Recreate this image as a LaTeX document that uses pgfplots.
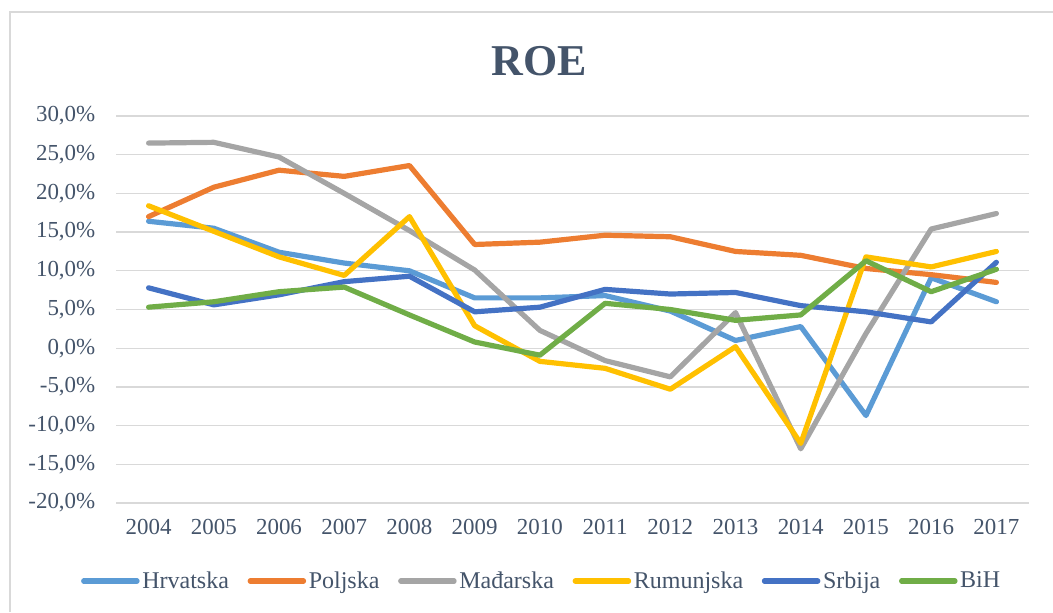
\documentclass[border=0pt]{standalone}
\usepackage{pgfplots}
\pgfplotsset{compat=1.18}
\usepackage{pgfplotstable}
\usepackage{fontspec}
\setmainfont{Liberation Serif}
\definecolor{txt}{HTML}{44546A}
\definecolor{cHr}{HTML}{5B9BD5}
\definecolor{cPo}{HTML}{ED7D31}
\definecolor{cMa}{HTML}{A5A5A5}
\definecolor{cRu}{HTML}{FFC000}
\definecolor{cSr}{HTML}{4472C4}
\definecolor{cBi}{HTML}{70AD47}
\definecolor{gridc}{HTML}{D9D9D9}
\pgfplotstableread{
year Hr Po Ma Ru Sr Bi
2004 16.4 17.0 26.5 18.4 7.8 5.3
2005 15.5 20.8 26.6 15.1 5.6 6.0
2006 12.4 23.0 24.7 11.8 6.9 7.3
2007 11.0 22.2 20.0 9.4 8.6 7.9
2008 10.0 23.6 15.2 17.0 9.3 4.3
2009 6.5 13.4 10.1 2.9 4.7 0.8
2010 6.5 13.7 2.3 -1.7 5.3 -0.9
2011 6.8 14.6 -1.6 -2.6 7.6 5.8
2012 4.8 14.4 -3.7 -5.3 7.0 5.0
2013 1.0 12.5 4.6 0.2 7.2 3.6
2014 2.8 12.0 -13.0 -12.3 5.5 4.3
2015 -8.7 10.3 1.9 11.8 4.7 11.3
2016 9.1 9.5 15.4 10.5 3.4 7.3
2017 6.0 8.5 17.4 12.5 11.1 10.2
}\datatable
\begin{document}
\begin{tikzpicture}
\path[use as bounding box] (0,0) rectangle (789.75pt,459pt);
\draw[gridc, line width=0.8pt] (7.5pt,0pt) -- (7.5pt,450pt) -- (789.75pt,450pt);
\node[text=txt, font=\fontsize{33}{36}\selectfont\bfseries, anchor=center] at (404.6pt,412.9pt) {ROE};
\begin{axis}[
  at={(87pt,81.75pt)}, anchor=south west,
  scale only axis, width=684.75pt, height=290.25pt,
  xmin=2003.5, xmax=2017.5, ymin=-20, ymax=30,
  axis line style={draw=none},
  major tick length=0pt,
  xtick={2004,...,2017},
  xticklabels={2004,2005,2006,2007,2008,2009,2010,2011,2012,2013,2014,2015,2016,2017},
  ytick={-20,-15,...,30},
  yticklabels={-20{,}0\%,-15{,}0\%,-10{,}0\%,-5{,}0\%,0{,}0\%,5{,}0\%,10{,}0\%,15{,}0\%,20{,}0\%,25{,}0\%,30{,}0\%},
  ticklabel style={text=txt, font=\fontsize{17.2}{19}\selectfont},
  yticklabel style={xshift=-12pt},
  xticklabel style={yshift=-9pt},
  ymajorgrids, grid style={gridc, line width=1.0pt},
  clip=false,
  legend columns=6,
  legend style={at={(0.4666,-0.2016)}, anchor=center, draw=none, fill=none,
    font=\fontsize{18}{20}\selectfont, text=txt,
    /tikz/every even column/.append style={column sep=12pt},
    /tikz/every odd column/.append style={column sep=0pt},
    inner sep=0pt},
  legend image code/.code={\draw[#1, line cap=round] (0pt,0pt) -- (40pt,0pt);},
  every axis plot/.append style={line width=3.9pt, line join=round, line cap=round},
]
\addplot[cHr] table[x=year,y=Hr] {\datatable};
\addlegendentry{Hrvatska}
\addplot[cPo] table[x=year,y=Po] {\datatable};
\addlegendentry{Poljska}
\addplot[cMa] table[x=year,y=Ma] {\datatable};
\addlegendentry{Mađarska}
\addplot[cRu] table[x=year,y=Ru] {\datatable};
\addlegendentry{Rumunjska}
\addplot[cSr] table[x=year,y=Sr] {\datatable};
\addlegendentry{Srbija}
\addplot[cBi] table[x=year,y=Bi] {\datatable};
\addlegendentry{BiH}
\end{axis}
\end{tikzpicture}
\end{document}
